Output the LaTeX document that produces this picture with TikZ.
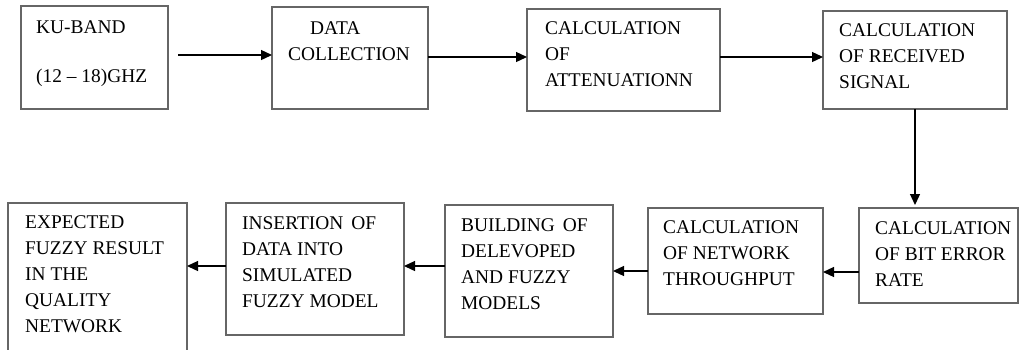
\documentclass[tikz,border=0pt]{standalone}
\usepackage{fontspec}
\setmainfont{Liberation Serif}
\usetikzlibrary{arrows.meta}
\begin{document}
\begin{tikzpicture}[x=1pt,y=-1pt,
  box/.style={draw=black!60, line width=1.4pt, inner sep=0pt, outer sep=0pt},
  txt/.style={font=\fontsize{19.4}{26}\selectfont, align=left, inner sep=0pt, anchor=base west, text=black},
  arr/.style={line width=1.3pt, draw=black, -{Triangle[length=11pt,width=10pt]}}]
\useasboundingbox (0,0) rectangle (1019,349);
% boxes
\node[box, minimum width=147pt, minimum height=103pt] (b1) at (94.5,57.5) {};
\node[box, minimum width=156pt, minimum height=102pt] (b2) at (350,58) {};
\node[box, minimum width=193pt, minimum height=102pt] (b3) at (623.5,60) {};
\node[box, minimum width=184pt, minimum height=98pt] (b4) at (915,60) {};
\node[box, minimum width=159pt, minimum height=95pt] (b5) at (938.5,255.5) {};
\node[box, minimum width=175pt, minimum height=106pt] (b6) at (735.5,261) {};
\node[box, minimum width=168pt, minimum height=132pt] (b7) at (529,271) {};
\node[box, minimum width=178pt, minimum height=132pt] (b8) at (315,269) {};
\node[box, minimum width=179pt, minimum height=152pt] (b9) at (97.5,279) {};
% texts (anchored at the baseline of their last line)
\node[txt] (t1a) at (36,33) {KU-BAND};
\node[txt] (t1b) at (36,82) {(12 -- 18)GHZ};
\node[txt] (t2) at (288,60.5) {\hspace*{22pt}DATA\\COLLECTION};
\node[txt] (t3) at (545,86.5) {CALCULATION\\OF\\ATTENUATIONN};
\node[txt] (t4) at (839,88.5) {CALCULATION\\OF RECEIVED\\SIGNAL};
\node[txt] (t5) at (875,286.5) {CALCULATION\\OF BIT ERROR\\RATE};
\node[txt] (t6) at (663,285.5) {CALCULATION\\OF NETWORK\\THROUGHPUT};
\node[txt] (t7) at (461,309.5) {BUILDING\hspace{8pt}OF\\DELEVOPED\\AND FUZZY\\MODELS};
\node[txt] (t8) at (242,307.5) {INSERTION\hspace{8pt}OF\\DATA INTO\\SIMULATED\\FUZZY MODEL};
\node[txt] (t9) at (25,332.5) {EXPECTED\\FUZZY RESULT\\IN THE\\QUALITY\\NETWORK};
% connectors
\coordinate (s1) at (178,55);
\draw[arr] (s1) -- (b2.west |- s1);
\draw[arr] (b2.east |- 0,57) -- (b3.west |- 0,57);
\draw[arr] (b3.east |- 0,57) -- (b4.west |- 0,57);
\draw[arr] (b4.south) -- ([yshift=3pt]b4.south |- b5.north);
\draw[arr] (b5.west |- 0,272) -- (b6.east |- 0,272);
\draw[arr] (b6.west |- 0,271) -- (b7.east |- 0,271);
\draw[arr] (b7.west |- 0,266) -- (b8.east |- 0,266);
\draw[arr] (b8.west |- 0,266) -- (b9.east |- 0,266);
\end{tikzpicture}
\end{document}
